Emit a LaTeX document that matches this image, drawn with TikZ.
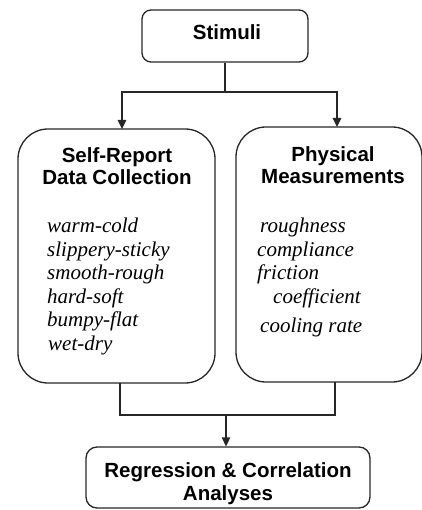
\documentclass[tikz,border=0pt]{standalone}
\usepackage{fontspec}
\setmainfont{Liberation Serif}
\setsansfont{Liberation Sans}
\usetikzlibrary{arrows.meta}
\begin{document}
\begin{tikzpicture}[x=1pt,y=-1pt,
  box/.style={draw=black!85,line width=1.3pt,inner sep=0pt,anchor=center},
  head/.style={font=\sffamily\bfseries\fontsize{20.5}{22.5}\selectfont,align=center,inner sep=0pt},
  item/.style={font=\itshape\fontsize{21}{23}\selectfont,anchor=base west,inner sep=0pt},
  conn/.style={draw=black!85,line width=1.3pt},
  arr/.style={conn,-{Triangle[length=9pt,width=8.5pt]}}]
\useasboundingbox (0,0) rectangle (421,510);
% boxes
\node[box,rounded corners=9pt,minimum width=166pt,minimum height=52pt] (stim) at (225,36) {};
\node[box,rounded corners=30pt,minimum width=197pt,minimum height=254pt] (self) at (116.5,256) {};
\node[box,rounded corners=30pt,minimum width=186pt,minimum height=255pt] (phys) at (329,254.5) {};
\node[box,rounded corners=11pt,minimum width=284pt,minimum height=61pt] (reg) at (228,477.5) {};
% headings
\node[head,anchor=base] (stimt) at (227,40) {Stimuli};
\node[head,anchor=base] (selft) at (117,185) {Self-Report\\Data Collection};
\node[head,anchor=base] (physt) at (333,184) {Physical\\Measurements};
\node[head,anchor=base] (regt) at (228,500) {Regression \& Correlation\\Analyses};
% left list
\node[item] (i1) at (47,233) {warm-cold};
\node[item] (i2) at (47,256) {slippery-sticky};
\node[item] (i3) at (47,279) {smooth-rough};
\node[item] (i4) at (47,303) {hard-soft};
\node[item] (i5) at (47,326) {bumpy-flat};
\node[item] (i6) at (48,350) {wet-dry};
% right list
\node[item] (p1) at (260,233) {roughness};
\node[item] (p2) at (257,256) {compliance};
\node[item] (p3) at (257,279) {friction};
\node[item] (p4) at (273,303) {coefficient};
\node[item] (p5) at (260,332) {cooling rate};
% connectors
\coordinate (j1) at (225,92);
\coordinate (aL) at (122,129);
\coordinate (aR) at (337,127);
\draw[conn] (stim.south) -- (j1);
\draw[arr] (j1) -| (aL);
\draw[arr] (j1) -| (aR);
\coordinate (bL) at (120,383);
\coordinate (bR) at (335,382);
\coordinate (j2) at (226,415);
\draw[conn] (bL) |- (j2) -| (bR);
\draw[arr] (j2) -- (reg.north -| j2);
\end{tikzpicture}
\end{document}
